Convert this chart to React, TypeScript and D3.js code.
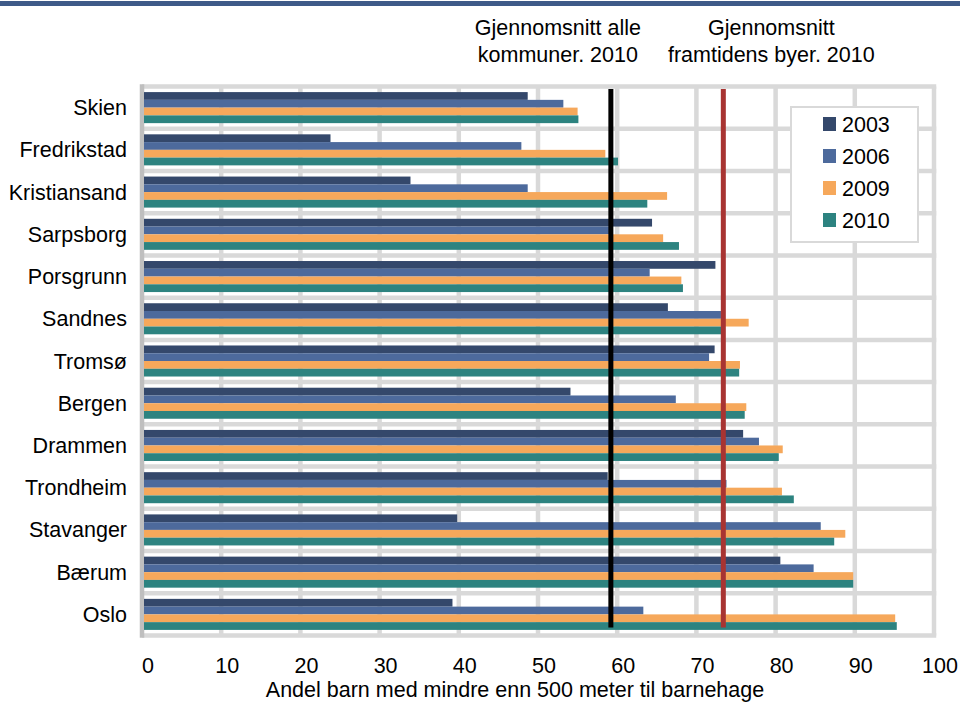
import React from "react";
import * as d3 from "d3";

const categories = ["Skien", "Fredrikstad", "Kristiansand", "Sarpsborg", "Porsgrunn", "Sandnes", "Tromsø", "Bergen", "Drammen", "Trondheim", "Stavanger", "Bærum", "Oslo"];
const seriesNames = ["2003", "2006", "2009", "2010"];
const v2003 = [48.7, 23.8, 33.9, 64.4, 72.4, 66.4, 72.3, 54.1, 75.9, 58.8, 39.8, 80.6, 39.2];
const v2006 = [53.2, 47.9, 48.7, 59.0, 64.1, 73.1, 71.6, 67.4, 77.9, 73.8, 85.7, 84.8, 63.3];
const v2009 = [55.0, 58.5, 66.3, 65.8, 68.1, 76.6, 75.5, 76.3, 80.9, 80.8, 88.8, 89.8, 95.1];
const v2010 = [55.1, 60.1, 63.8, 67.8, 68.3, 73.2, 75.4, 76.1, 80.4, 82.3, 87.4, 89.8, 95.3];
const xTicks = [0, 10, 20, 30, 40, 50, 60, 70, 80, 90, 100];
const refLines = [
  { value: 59.2, label: ["Gjennomsnitt alle", "kommuner. 2010"] },
  { value: 73.4, label: ["Gjennomsnitt", "framtidens byer. 2010"] },
];
const xTitle = "Andel barn med mindre enn 500 meter til barnehage";

const colors = ["#34486b", "#4d6a9c", "#f6a85b", "#2d8380"];
const refColors = ["#000000", "#a83432"];
const FONT = "'Liberation Sans', Arial, sans-serif";

export default function App() {
  const W = 960, H = 702;
  const left = 142, right = 934, top = 86.5, bottom = 635.5;
  const x = d3.scaleLinear().domain([0, 100]).range([left, right]);
  const y = d3.scaleBand().domain(categories).range([top, bottom]).paddingInner(0.265).paddingOuter(0.1325);
  const yi = d3.scaleBand().domain(seriesNames).range([0, y.bandwidth()]);
  const series = [v2003, v2006, v2009, v2010];
  const step = y.step();
  const grid = "#d9d9d9";
  const fs = 21.5;

  return (
    <svg width={W} height={H} style={{ position: "absolute", left: 0, top: 0, background: "#fff" }} fontFamily={FONT}>
      <rect x={0} y={1} width={W} height={5} fill="#3e5a88" />
      <rect x={left} y={top} width={right - left} height={bottom - top} fill="#fff" />
      {xTicks.filter((t) => t > 0).map((t) => (
        <line key={"vg" + t} x1={x(t)} x2={x(t)} y1={top} y2={bottom} stroke={grid} strokeWidth={4.5} />
      ))}
      {d3.range(categories.length + 1).map((i) => (
        <line key={"hg" + i} x1={left} x2={right + 2.25} y1={top + i * step} y2={top + i * step} stroke={grid} strokeWidth={4.5} />
      ))}
      <line x1={left} x2={left} y1={top - 2.25} y2={bottom + 2.25} stroke="#bfbfbf" strokeWidth={4.5} />
      {categories.map((c, ci) => (
        <g key={c} transform={`translate(0,${y(c)})`}>
          {series.map((s, si) => (
            <rect key={si} x={x(0) + 2} y={yi(seriesNames[si])} width={x(s[ci]) - x(0) - 2} height={yi.bandwidth()} fill={colors[si]} />
          ))}
        </g>
      ))}
      {refLines.map((r, i) => (
        <g key={"ref" + i}>
          <line x1={x(r.value)} x2={x(r.value)} y1={top + 2.5} y2={bottom - 8} stroke={refColors[i]} strokeWidth={5} />
          {r.label.map((l, li) => (
            <text key={li} x={x(r.value) + (i === 0 ? -53 : 48)} y={34.5 + li * 27} textAnchor="middle" fontSize={fs} fill="#000">{l}</text>
          ))}
        </g>
      ))}
      {categories.map((c) => (
        <text key={"cl" + c} x={127} y={(y(c) as number) + y.bandwidth() / 2 + 7.5} textAnchor="end" fontSize={fs} fill="#000">{c}</text>
      ))}
      {xTicks.map((t) => (
        <text key={"xt" + t} x={x(t) + 6} y={672.5} textAnchor="middle" fontSize={fs} fill="#000">{t}</text>
      ))}
      <text x={515} y={696.5} textAnchor="middle" fontSize={fs} fill="#000">{xTitle}</text>
      <rect x={791} y={107} width={127} height={135} fill="#fff" stroke={grid} strokeWidth={2} />
      {seriesNames.map((s, i) => (
        <g key={"lg" + s} transform={`translate(823,${117 + i * 32})`}>
          <rect x={0} y={0} width={13} height={14} fill={colors[i]} />
          <text x={19} y={14.5} fontSize={fs} fill="#000">{s}</text>
        </g>
      ))}
    </svg>
  );
}
